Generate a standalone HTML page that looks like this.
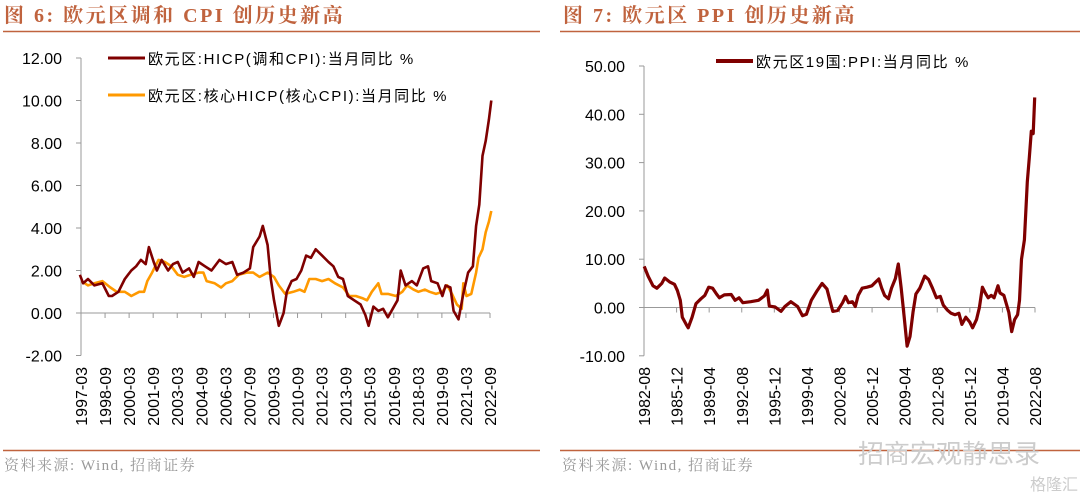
<!DOCTYPE html>
<html><head><meta charset="utf-8">
<style>
html,body{margin:0;padding:0;background:#fff;width:1080px;height:498px;overflow:hidden;}
svg{display:block;font-family:"Liberation Sans","Noto Sans CJK SC",sans-serif;}
.title{font-family:"Liberation Serif","Noto Serif CJK SC",serif;font-weight:bold;font-size:20px;fill:#c0633e;letter-spacing:2.5px;}
.src{font-family:"Liberation Serif","Noto Serif CJK SC",serif;font-size:15px;fill:#999;letter-spacing:1.5px;}
.tick{font-size:16px;fill:#000;}
.xt{font-size:16px;fill:#000;}
.leg{font-size:15px;fill:#000;letter-spacing:1.6px;}
</style></head><body>
<svg id="chart" width="1080" height="498" viewBox="0 0 1080 498">
  <text class="title" x="4" y="22">图 6:  欧元区调和 CPI 创历史新高</text>
  <line x1="3" y1="31.5" x2="540" y2="31.5" stroke="#c0633e" stroke-width="1.5"/>
  <text class="title" x="563" y="22">图 7:  欧元区 PPI 创历史新高</text>
  <line x1="560" y1="31.5" x2="1080" y2="31.5" stroke="#c0633e" stroke-width="1.5"/>
  <line x1="3" y1="450.5" x2="540" y2="450.5" stroke="#c0633e" stroke-width="1.5"/>
  <line x1="560" y1="450.5" x2="1080" y2="450.5" stroke="#c0633e" stroke-width="1.5"/>
  <text class="src" x="4" y="470">资料来源:  Wind,  招商证券</text>
  <text class="src" x="562" y="470">资料来源:  Wind,  招商证券</text>
  <text x="858" y="463" font-size="26" fill="#ccc" font-family="Liberation Sans, Noto Sans CJK SC, sans-serif">招商宏观静思录</text>
  <text x="1030" y="490" font-size="16" fill="#ccc" font-family="Liberation Sans, Noto Sans CJK SC, sans-serif">格隆汇</text>
  <g id="left"></g>
  <g id="right"></g>
</svg>
<script>
// ---- Left chart data (year fraction, %)
const hicpDates=[1997.1,1997.3,1997.6,1998.0,1998.5,1998.9,1999.1,1999.5,1999.9,2000.3,2000.6,2000.9,2001.2,2001.4,2001.7,2001.9,2002.2,2002.6,2002.9,2003.2,2003.5,2003.9,2004.2,2004.5,2004.9,2005.3,2005.8,2006.2,2006.6,2006.9,2007.3,2007.7,2007.9,2008.3,2008.5,2008.8,2009.0,2009.2,2009.5,2009.8,2010.0,2010.3,2010.6,2010.9,2011.2,2011.5,2011.8,2012.2,2012.6,2012.9,2013.2,2013.5,2013.8,2014.2,2014.6,2014.9,2015.1,2015.4,2015.7,2016.0,2016.3,2016.6,2016.9,2017.1,2017.4,2017.8,2018.1,2018.5,2018.8,2019.0,2019.4,2019.7,2019.9,2020.2,2020.4,2020.7,2021.0,2021.3,2021.6,2021.8,2022.0,2022.2,2022.4,2022.6,2022.75];
const hicpValues=[1.8,1.4,1.6,1.3,1.4,0.8,0.8,1.0,1.6,2.0,2.2,2.5,2.3,3.1,2.4,2.0,2.5,2.0,2.3,2.4,1.9,2.1,1.7,2.4,2.2,2.0,2.5,2.3,2.4,1.8,1.9,2.1,3.1,3.6,4.1,3.2,1.6,0.6,-0.6,0.0,1.0,1.5,1.6,2.0,2.7,2.6,3.0,2.7,2.4,2.2,1.7,1.6,0.8,0.6,0.4,-0.1,-0.6,0.3,0.1,0.2,-0.2,0.2,0.6,2.0,1.3,1.5,1.3,2.1,2.2,1.5,1.4,0.8,1.3,1.2,0.1,-0.3,0.9,1.9,2.2,4.1,5.1,7.4,8.1,9.1,10.0];
const coreDates=[1997.2,1997.6,1998.0,1998.5,1999.0,1999.4,1999.9,2000.3,2000.8,2001.1,2001.3,2001.6,2002.0,2002.4,2002.8,2003.2,2003.6,2004.0,2004.5,2004.8,2005.0,2005.5,2005.9,2006.2,2006.6,2007.0,2007.5,2007.9,2008.3,2008.8,2009.2,2009.5,2009.9,2010.4,2010.8,2011.1,2011.4,2011.8,2012.2,2012.6,2013.0,2013.5,2013.9,2014.3,2014.7,2015.0,2015.3,2015.7,2015.9,2016.3,2016.8,2017.2,2017.5,2017.9,2018.2,2018.6,2018.9,2019.3,2019.7,2020.0,2020.3,2020.6,2020.9,2021.0,2021.2,2021.5,2021.8,2021.95,2022.2,2022.4,2022.6,2022.75];
const coreValues=[1.5,1.3,1.4,1.5,1.2,1.0,1.0,0.8,1.0,1.0,1.5,1.9,2.5,2.4,2.2,1.8,1.7,1.8,1.9,1.9,1.5,1.4,1.2,1.4,1.5,1.8,1.9,1.9,1.7,1.9,1.7,1.3,0.9,1.0,1.1,1.0,1.6,1.6,1.5,1.6,1.4,1.2,0.8,0.8,0.7,0.6,1.0,1.4,0.9,0.9,0.8,1.0,1.3,1.1,1.0,1.1,1.0,0.9,1.0,1.3,0.9,0.4,0.2,1.4,0.8,0.9,1.9,2.6,3.0,3.8,4.3,4.8];
const leftYTicks=[12,10,8,6,4,2,0,-2];
const leftXLabels=["1997-03","1998-09","2000-03","2001-09","2003-03","2004-09","2006-03","2007-09","2009-03","2010-09","2012-03","2013-09","2015-03","2016-09","2018-03","2019-09","2021-03","2022-09"];
// ---- Right chart data
const ppiDates=[1982.6,1983.0,1983.5,1983.9,1984.4,1984.7,1985.2,1985.7,1986.0,1986.3,1986.5,1986.9,1987.1,1987.5,1987.9,1988.4,1988.8,1989.2,1989.6,1990.0,1990.3,1990.8,1991.5,1991.9,1992.3,1992.7,1993.5,1994.3,1994.9,1995.2,1995.4,1996.0,1996.6,1997.0,1997.6,1998.3,1998.8,1999.2,1999.7,2000.3,2000.8,2001.3,2001.6,2001.9,2002.4,2002.9,2003.2,2003.5,2003.9,2004.2,2004.5,2004.9,2005.4,2005.9,2006.3,2006.6,2006.9,2007.2,2007.6,2007.9,2008.3,2008.6,2008.9,2009.2,2009.5,2009.8,2010.1,2010.4,2010.8,2011.1,2011.3,2011.7,2012.1,2012.5,2012.9,2013.2,2013.6,2014.0,2014.4,2014.8,2015.1,2015.5,2015.9,2016.2,2016.6,2016.9,2017.2,2017.5,2017.8,2018.1,2018.4,2018.8,2019.0,2019.4,2019.9,2020.2,2020.5,2020.8,2021.0,2021.2,2021.5,2021.8,2022.0,2022.2,2022.4,2022.55];
const ppiValues=[8.5,6.5,4.5,4.0,5.0,6.1,5.3,4.8,3.5,1.5,-2.0,-3.5,-4.2,-2.0,0.8,1.8,2.5,4.2,4.0,2.8,2.0,2.6,2.7,1.5,2.0,1.0,1.2,1.5,2.4,3.6,0.3,0.1,-0.8,0.2,1.2,0.2,-1.7,-1.4,1.5,3.5,5.0,3.8,1.5,-0.8,-0.6,1.0,2.3,1.0,1.2,0.2,2.5,4.0,4.2,4.5,5.3,5.9,4.0,2.5,1.8,4.0,6.0,9.0,4.0,-2.0,-8.0,-6.0,-1.0,2.8,4.0,5.5,6.5,5.8,4.0,2.0,2.3,0.5,-0.5,-1.2,-1.5,-1.2,-3.5,-2.0,-3.0,-4.2,-2.5,0.0,4.2,3.0,2.0,2.5,2.0,4.5,3.0,2.5,-1.0,-5.0,-2.5,-1.5,1.5,10.0,14.0,26.0,31.0,36.5,36.0,43.5];
const rightYTicks=[50,40,30,20,10,0,-10];
const rightXLabels=["1982-08","1985-12","1989-04","1992-08","1995-12","1999-04","2002-08","2005-12","2009-04","2012-08","2015-12","2019-04","2022-08"];

const NS="http://www.w3.org/2000/svg";
function mk(parent,tag,attrs){const e=document.createElementNS(NS,tag);for(const k in attrs)e.setAttribute(k,attrs[k]);parent.appendChild(e);return e;}
function ym(s){const p=s.split("-");return +p[0]+(+p[1]-1)/12;}

function drawChart(g,cfg){
  const xs=d=>cfg.x0+(d-cfg.d0)/(cfg.d1-cfg.d0)*(cfg.x1-cfg.x0);
  const ys=v=>cfg.yZero-v*cfg.pxPerUnit;
  const yTop=ys(cfg.yTicks[0]), yBot=ys(cfg.yTicks[cfg.yTicks.length-1]);
  const ax=mk(g,"line",{x1:cfg.x0,y1:yTop,x2:cfg.x0,y2:yBot,stroke:"#999","stroke-width":1});
  
  
  cfg.yTicks.forEach(v=>{
    const t=mk(g,"line",{x1:cfg.x0-5,y1:ys(v),x2:cfg.x0,y2:ys(v),stroke:"#999"});
    
    
    const l=mk(g,"text",{x:cfg.x0-cfg.labGap,y:ys(v)+6,"text-anchor":"end",class:"tick"});
    l.textContent=v.toFixed(2);
    
    
  });
  const xa=mk(g,"line",{x1:cfg.x0,y1:ys(0),x2:cfg.x1+cfg.ext,y2:ys(0),stroke:"#999"});
  
  
  cfg.xLabels.forEach(s=>{
    const x=xs(ym(s));
    const t=mk(g,"line",{x1:x,y1:ys(0),x2:x,y2:ys(0)+5,stroke:"#999"});
    
    
    const l=mk(g,"text",{x:0,y:0,"text-anchor":"end",class:"xt",transform:`translate(${x+6},${cfg.xLabY}) rotate(-90)`});
    l.textContent=s;
    
    
  });
  cfg.series.forEach(s=>{
    const pts=s.dates.map((d,i)=>xs(d).toFixed(1)+","+ys(s.values[i]).toFixed(1)).join(" ");
    const p=mk(g,"polyline",{points:pts,fill:"none",stroke:s.color,"stroke-width":s.w,"stroke-linejoin":"round"});
    
    
  });
  cfg.legend.forEach(L=>{
    const ln=mk(g,"line",{x1:L.x,y1:L.y,x2:L.x+37,y2:L.y,stroke:L.color,"stroke-width":L.w});
    
    
    const tx=mk(g,"text",{x:L.x+40,y:L.y+6,class:"leg"});
    tx.textContent=L.text;
    
    
  });
}

drawChart(document.getElementById("left"),{
  x0:81,x1:490,d0:ym("1997-03"),d1:ym("2022-09"),ext:0,yZero:313,pxPerUnit:21.25,labGap:19,xLabY:367,
  yTicks:leftYTicks,xLabels:leftXLabels,
  series:[{name:"core-hicp-line",dates:coreDates,values:coreValues,color:"#ff9900",w:2.6},
          {name:"hicp-line",dates:hicpDates,values:hicpValues,color:"#7f0000",w:2.6}],
  legend:[{x:108,y:58,color:"#7f0000",w:3,text:"欧元区:HICP(调和CPI):当月同比 %"},
          {x:108,y:95,color:"#ff9900",w:3,text:"欧元区:核心HICP(核心CPI):当月同比 %"}]
});
drawChart(document.getElementById("right"),{
  x0:644,x1:1035,d0:ym("1982-08"),d1:ym("2022-08"),ext:0,yZero:307.5,pxPerUnit:4.83,labGap:19,xLabY:367,
  yTicks:rightYTicks,xLabels:rightXLabels,
  series:[{name:"ppi-line",dates:ppiDates,values:ppiValues,color:"#7f0000",w:3.2}],
  legend:[{x:716,y:61,color:"#7f0000",w:4,text:"欧元区19国:PPI:当月同比 %"}]
});
</script>
</body></html>
